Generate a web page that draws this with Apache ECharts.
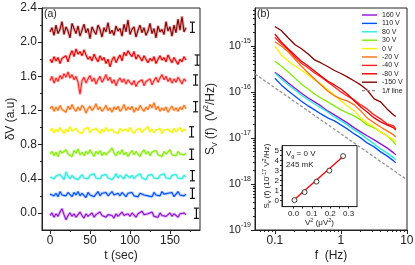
<!DOCTYPE html>
<html><head><meta charset="utf-8">
<script src="https://cdn.jsdelivr.net/npm/echarts@6/dist/echarts.min.js"></script>
<style>html,body{margin:0;padding:0;background:#fff}#c{width:415px;height:265px}</style>
</head><body><div id="c"></div>
<script>
// ---------- Panel (a): time traces ----------
const tSec = [0,2.5,5,7.5,10,12.5,15,17.5,20,22.5,25,27.5,30,32.5,35,37.5,40,42.5,45,47.5,50,52.5,55,57.5,60,62.5,65,67.5,70,72.5,75,77.5,80,82.5,85,87.5,90,92.5,95,97.5,100,102.5,105,107.5,110,112.5,115,117.5,120,122.5,125,127.5,130,132.5,135,137.5,140,142.5,145,147.5,150,152.5,155,157.5,160,162.5,165,167.5,170];
const trace_m150 = [2.12,2.17,2.08,2.20,2.10,2.15,2.24,2.09,2.18,2.13, 2.05,2.22,2.16,2.10,2.19,2.07,2.14,2.21,2.11,2.16, 2.04,2.18,2.13,2.09,2.20,2.15,2.06,2.17,2.12,2.23, 2.10,2.14,2.08,2.19,2.13,2.16,2.07,2.21,2.12,2.26, 2.09,2.15,2.18,2.06,2.14,2.20,2.11,2.17,2.08,2.13, 2.22,2.10,2.16,2.05,2.19,2.12,2.15,2.09,2.24,2.13, 2.18,2.07,2.20,2.11,2.27,2.14,2.30,2.12,2.17];
const trace_m80 = [1.80,1.76,1.83,1.78,1.82,1.75,1.81,1.79,1.84,1.77, 1.85,1.90,1.83,1.92,1.86,1.89,1.84,1.91,1.85,1.80, 1.83,1.78,1.86,1.81,1.77,1.84,1.79,1.82,1.75,1.80, 1.71,1.79,1.83,1.76,1.81,1.85,1.78,1.88,1.84,1.90, 1.86,1.83,1.89,1.80,1.85,1.82,1.78,1.84,1.80,1.76, 1.81,1.78,1.83,1.75,1.80,1.84,1.79,1.82,1.77,1.85, 1.80,1.76,1.82,1.78,1.74,1.80,1.77,1.83,1.79];
const trace_m40 = [1.55,1.60,1.52,1.58,1.54,1.61,1.57,1.63,1.59,1.65, 1.58,1.62,1.56,1.60,1.53,1.39,1.55,1.59,1.52,1.57, 1.61,1.54,1.58,1.51,1.56,1.60,1.53,1.57,1.62,1.55, 1.59,1.52,1.56,1.49,1.55,1.58,1.53,1.57,1.51,1.56, 1.54,1.50,1.55,1.48,1.53,1.51,1.56,1.49,1.54,1.52, 1.57,1.50,1.55,1.59,1.53,1.58,1.62,1.56,1.60,1.54, 1.58,1.52,1.57,1.53,1.59,1.55,1.51,1.57,1.54];
const trace_m20 = [1.22,1.25,1.19,1.24,1.20,1.26,1.21,1.23,1.18,1.25, 1.21,1.27,1.22,1.19,1.24,1.20,1.26,1.23,1.17,1.22, 1.25,1.20,1.23,1.28,1.21,1.24,1.19,1.22,1.26,1.20, 1.23,1.18,1.24,1.21,1.25,1.19,1.22,1.27,1.20,1.24, 1.21,1.25,1.18,1.23,1.20,1.26,1.22,1.19,1.24,1.21, 1.27,1.23,1.29,1.21,1.25,1.19,1.23,1.20,1.24,1.18, 1.22,1.25,1.20,1.23,1.19,1.24,1.21,1.26,1.22];
const trace_0 = [0.96,0.99,0.94,0.98,0.95,1.00,0.96,0.93,0.98,0.95, 1.01,0.96,0.94,0.99,0.95,0.97,0.93,0.98,0.96,1.00, 0.94,0.97,0.95,0.99,0.96,0.93,0.98,0.95,1.00,0.96, 0.94,0.98,0.95,0.97,0.93,0.99,0.96,0.94,0.98,0.95, 1.00,0.96,0.93,0.97,0.95,0.99,0.94,0.97,0.96,1.01, 0.95,0.98,0.94,0.97,0.96,0.99,0.93,0.97,0.95,0.98, 0.96,0.94,0.99,0.95,0.97,1.00,0.95,0.98,0.96];
const trace_30 = [0.69,0.72,0.67,0.71,0.66,0.73,0.70,0.68,0.74,0.69, 0.71,0.66,0.73,0.70,0.75,0.68,0.71,0.67,0.72,0.69, 0.74,0.70,0.66,0.72,0.69,0.73,0.67,0.71,0.68,0.70, 0.73,0.76,0.70,0.67,0.72,0.69,0.74,0.68,0.71,0.66, 0.70,0.73,0.68,0.72,0.69,0.66,0.71,0.74,0.69,0.72, 0.67,0.71,0.69,0.73,0.68,0.70,0.66,0.72,0.69,0.71, 0.74,0.68,0.70,0.67,0.72,0.69,0.71,0.68,0.70];
const trace_80 = [0.42,0.44,0.40,0.43,0.41,0.45,0.42,0.39,0.48,0.43, 0.40,0.44,0.41,0.43,0.39,0.42,0.45,0.41,0.43,0.40, 0.44,0.42,0.46,0.41,0.43,0.40,0.44,0.42,0.45,0.41, 0.43,0.39,0.42,0.46,0.41,0.44,0.42,0.40,0.45,0.43, 0.41,0.44,0.40,0.43,0.42,0.46,0.41,0.43,0.39,0.44, 0.42,0.45,0.41,0.43,0.40,0.44,0.42,0.46,0.41,0.43, 0.40,0.44,0.42,0.45,0.41,0.43,0.40,0.44,0.42];
const trace_110 = [0.22,0.24,0.20,0.23,0.19,0.25,0.21,0.23,0.20,0.24, 0.22,0.19,0.24,0.21,0.25,0.20,0.23,0.22,0.18,0.24, 0.21,0.23,0.19,0.22,0.25,0.20,0.23,0.21,0.24,0.20, 0.22,0.25,0.21,0.19,0.23,0.20,0.24,0.22,0.19,0.23, 0.21,0.24,0.20,0.22,0.19,0.23,0.25,0.21,0.23,0.20, 0.22,0.19,0.24,0.21,0.23,0.20,0.25,0.22,0.20,0.23, 0.21,0.24,0.19,0.22,0.25,0.21,0.23,0.20,0.22];
const trace_160 = [-0.03,0.00,-0.05,-0.01,-0.04,0.01,0.05,-0.02,-0.08,-0.03, 0.00,-0.04,-0.01,-0.05,-0.02,0.01,-0.03,-0.06,-0.01,-0.04, -0.02,0.00,-0.05,-0.02,-0.04,0.01,-0.03,-0.01,-0.05,-0.02, 0.00,-0.03,-0.06,-0.01,-0.04,-0.02,0.01,-0.03,-0.05,-0.01, -0.04,0.00,-0.02,-0.05,-0.01,-0.03,0.02,-0.02,-0.04,-0.01, -0.03,0.01,-0.04,-0.02,-0.05,0.00,-0.03,-0.01,-0.04,-0.02, 0.00,-0.04,-0.01,-0.03,-0.05,-0.01,-0.03,0.00,-0.02];
const traceNames = ['-150 V','-80 V','-40 V','-20 V','0 V','30 V','80 V','110 V','160 V'];
const labelT = [100,104,91,100,96,94,98,94,94];
const labelY = [2.31,1.955,1.647,1.343,1.062,0.787,0.54,0.307,0.073];
const scaleBarT = [178,184,182,182,177,177,178,178,183];
const scaleBarY = [2.174,1.79,1.557,1.244,0.95,0.687,0.436,0.23,-0.004];
const scaleBarLen = 0.12;
const tLabels = [0,50,100,150];
const tMinor = [25,75,125,175];
const dvLabels = [0,0.4,0.8,1.2,1.6,2.0,2.4];
const dvMinor = [0.2,0.6,1.0,1.4,1.8,2.2];

// ---------- Panel (b): spectra ----------
const freq = [0.1,0.125,0.16,0.2,0.25,0.32,0.4,0.5,0.63,0.8,1,1.25,1.6,2,2.5,3.2,4,5,6.3,6.8];
const S_160 = [2.68e-16,2.12e-16,1.57e-16,1.22e-16,9.51e-17,7.40e-17,6.06e-17,4.96e-17,3.86e-17,3.16e-17,2.59e-17,2.12e-17,1.65e-17,1.35e-17,1.11e-17,9.04e-18,7.40e-18,6.06e-18,4.72e-18,4.27e-18];
const S_110 = [1.99e-16,1.42e-16,1.05e-16,8.18e-17,6.37e-17,4.96e-17,4.06e-17,3.32e-17,2.72e-17,2.34e-17,1.92e-17,1.57e-17,1.22e-17,1.0e-17,7.78e-18,6.37e-18,4.96e-18,4.06e-18,3.16e-18,2.86e-18];
const S_80 = [2.59e-16,1.92e-16,1.42e-16,1.11e-16,8.60e-17,6.70e-17,5.48e-17,4.49e-17,3.67e-17,2.86e-17,2.34e-17,1.92e-17,1.49e-17,1.22e-17,9.51e-18,7.40e-18,5.76e-18,4.72e-18,3.67e-18,3.32e-18];
const S_30 = [4.65e-16,3.67e-16,2.72e-16,2.02e-16,1.49e-16,1.16e-16,9.04e-17,7.40e-17,6.06e-17,4.96e-17,4.06e-17,3.50e-17,3.01e-17,2.46e-17,1.92e-17,1.65e-17,1.35e-17,1.11e-17,8.18e-18,7.04e-18];
const S_0 = [1.0e-15,6.37e-16,4.72e-16,3.67e-16,3.01e-16,2.34e-16,1.82e-16,1.49e-16,1.11e-16,8.60e-17,6.37e-17,4.96e-17,3.86e-17,2.72e-17,2.12e-17,1.73e-17,1.35e-17,1.11e-17,9.04e-18,8.18e-18];
const S_m20 = [1.24e-15,1.0e-15,7.40e-16,5.22e-16,3.67e-16,2.59e-16,1.92e-16,1.42e-16,1.05e-16,8.18e-17,7.04e-17,6.37e-17,5.22e-17,3.86e-17,2.72e-17,2.12e-17,1.73e-17,1.42e-17,1.16e-17,1.05e-17];
const S_m40 = [1.53e-15,1.11e-15,8.18e-16,5.76e-16,4.27e-16,3.32e-16,2.59e-16,2.12e-16,1.65e-16,1.28e-16,1.0e-16,8.18e-17,6.70e-17,5.22e-17,4.27e-17,3.16e-17,2.59e-17,2.02e-17,1.82e-17,1.57e-17];
const S_m80 = [1.82e-15,1.22e-15,8.6e-16,6.37e-16,4.72e-16,3.67e-16,2.86e-16,2.23e-16,1.73e-16,1.42e-16,1.16e-16,9.04e-17,6.37e-17,4.72e-17,3.67e-17,2.72e-17,2.23e-17,1.92e-17,1.65e-17,1.49e-17];
const S_m150 = [2.65e-15,2.17e-15,1.49e-15,1.08e-15,8.8e-16,6.7e-16,4.97e-16,4.27e-16,3.58e-16,2.93e-16,2.52e-16,2.12e-16,1.73e-16,1.42e-16,1.10e-16,7.05e-17,6.07e-17,4.27e-17,3.16e-17,2.93e-17];
const oneOverF_f = [0.05,10];
const oneOverF_S = [2.46e-16,1.23e-18];
const specNames = ['160 V','110 V','80 V','30 V','0 V','-20 V','-40 V','-80 V','-150 V'];
const fLabels = [0.1,1,10];
const fMinor = [0.06,0.07,0.08,0.09,0.2,0.3,0.4,0.5,0.6,0.7,0.8,0.9,2,3,4,5,6,7,8,9];
const sLabels = [1e-19,1e-18,1e-17,1e-16,1e-15];
const sMinor = [2e-19,3e-19,4e-19,5e-19,6e-19,7e-19,8e-19,9e-19,2e-18,3e-18,4e-18,5e-18,6e-18,7e-18,8e-18,9e-18,2e-17,3e-17,4e-17,5e-17,6e-17,7e-17,8e-17,9e-17,2e-16,3e-16,4e-16,5e-16,6e-16,7e-16,8e-16,9e-16,2e-15,3e-15,4e-15,5e-15,6e-15];

// ---------- Inset ----------
const insetV2 = [0.005,0.06,0.125,0.195,0.27];
const insetS = [0.05,0.85,1.9,3.0,4.45];
const fitV2 = [0.005,0.27];
const fitS = [0.1,4.4];
const insetXLabels = [0,0.1,0.2,0.3];
const insetXTicks = [0,0.05,0.1,0.15,0.2,0.25,0.3];
const insetYLabels = [0,1,2,3,4,5];
const insetYTicks = [0,0.5,1,1.5,2,2.5,3,3.5,4,4.5,5];

// ---------- styling ----------
const FONT = '"Liberation Sans", Arial, sans-serif';
const ink = '#222';
const traceColors = ['#8b0000','#e80000','#ff2222','#ff7010','#f4f400','#80ee00','#22eedd','#0050ff','#9010d8'];
const specColors = ['#9010d8','#0050ff','#22eedd','#80ee00','#f4f400','#ff7010','#ff2222','#e80000','#8b0000'];
const traces = [trace_m150,trace_m80,trace_m40,trace_m20,trace_0,trace_30,trace_80,trace_110,trace_160];
const spectra = [S_160,S_110,S_80,S_30,S_0,S_m20,S_m40,S_m80,S_m150];

const rich = {
  sup:{fontSize:7,lineHeight:8,verticalAlign:'top',fontFamily:FONT,color:ink},
  sub:{fontSize:7,lineHeight:8,verticalAlign:'bottom',fontFamily:FONT,color:ink}
};
const richSmall = {
  sup:{fontSize:5.5,lineHeight:6,verticalAlign:'top',fontFamily:FONT,color:ink},
  sub:{fontSize:5.5,lineHeight:6,verticalAlign:'bottom',fontFamily:FONT,color:ink}
};

function mainAxis(o){
  return Object.assign({
    type:'value', nameMoveOverlap:false,
    axisLine:{show:true,onZero:false,lineStyle:{color:ink,width:1}},
    axisTick:{show:true,inside:false,length:4,lineStyle:{color:ink,width:1}},
    axisLabel:{show:true,color:ink,fontFamily:FONT,fontSize:12,margin:4},
    splitLine:{show:false}, minorTick:{show:false}, minorSplitLine:{show:false},
    nameTextStyle:{color:ink,fontFamily:FONT,fontSize:12}
  }, o);
}
function minorAxis(o, vals, len){
  return Object.assign({
    type:'value',
    axisLine:{show:false,onZero:false},
    axisTick:{show:true,inside:false,length:len||2,customValues:vals,lineStyle:{color:ink,width:1}},
    axisLabel:{show:false},
    splitLine:{show:false}
  }, o);
}

const xAxis = [
  mainAxis({gridIndex:0,position:'bottom',min:-10,max:187.5,
    axisTick:{show:true,inside:false,length:4,customValues:tLabels,lineStyle:{color:ink}},
    axisLabel:{show:true,customValues:tLabels,color:ink,fontFamily:FONT,fontSize:12,margin:5},
    name:'t (sec)',nameLocation:'middle',nameGap:20}),
  minorAxis({gridIndex:0,position:'bottom',min:-10,max:187.5}, tMinor, 2),
  mainAxis({gridIndex:1,type:'log',logBase:10,position:'bottom',min:0.05,max:10.05,
    axisTick:{show:true,inside:false,length:4,customValues:fLabels,lineStyle:{color:ink}},
    axisLabel:{show:true,customValues:fLabels,color:ink,fontFamily:FONT,fontSize:12,margin:5,
      formatter:v=>{const e=Math.round(Math.log10(v));return e<0?Math.pow(10,e).toFixed(-e):String(Math.pow(10,e));}},
    name:'f  (Hz)',nameLocation:'middle',nameGap:20}),
  minorAxis({gridIndex:1,type:'log',logBase:10,position:'bottom',min:0.05,max:10.05}, fMinor, 2),
  mainAxis({gridIndex:2,position:'bottom',min:-0.063,max:0.346,
    axisTick:{show:true,inside:false,length:2,customValues:insetXTicks,lineStyle:{color:ink}},
    axisLabel:{show:true,customValues:insetXLabels,color:ink,fontFamily:FONT,fontSize:8,margin:3,formatter:v=>v.toFixed(1)},
    name:'V{sup|2} (μV{sup|2})',nameLocation:'middle',nameGap:11,
    nameTextStyle:{color:ink,fontFamily:FONT,fontSize:8,lineHeight:11,rich:richSmall}})
];
const yAxis = [
  mainAxis({gridIndex:0,position:'left',min:-0.2,max:2.4,
    axisTick:{show:true,inside:false,length:4,customValues:dvLabels,lineStyle:{color:ink}},
    axisLabel:{show:true,customValues:dvLabels,color:ink,fontFamily:FONT,fontSize:12,margin:5,formatter:v=>v.toFixed(1)},
    name:'δV (a.u)',nameLocation:'middle',nameGap:25}),
  minorAxis({gridIndex:0,position:'left',min:-0.2,max:2.4}, dvMinor, 2),
  mainAxis({gridIndex:1,type:'log',logBase:10,position:'left',min:9.9e-20,max:6.7e-15,
    axisTick:{show:true,inside:false,length:4,customValues:sLabels,lineStyle:{color:ink}},
    axisLabel:{show:true,customValues:sLabels,color:ink,fontFamily:FONT,fontSize:11,lineHeight:16,margin:4,rich:rich,
      formatter:v=>'10{sup|'+Math.round(Math.log10(v))+'}'},
    name:'S{sub|V} (f)  (V{sup|2}/Hz)',nameLocation:'middle',nameGap:36,
    nameTextStyle:{color:ink,fontFamily:FONT,fontSize:12,lineHeight:16,rich:rich}}),
  minorAxis({gridIndex:1,type:'log',logBase:10,position:'left',min:9.9e-20,max:6.7e-15}, sMinor, 2),
  mainAxis({gridIndex:2,position:'left',min:-0.6,max:5.5,
    axisTick:{show:true,inside:false,length:2,customValues:insetYTicks,lineStyle:{color:ink}},
    axisLabel:{show:true,customValues:insetYLabels,color:ink,fontFamily:FONT,fontSize:8,margin:3},
    name:'S{sub|v} (f) (10{sup|-17} V{sup|2}/Hz)',nameLocation:'middle',nameGap:10,
    nameTextStyle:{color:ink,fontFamily:FONT,fontSize:8,lineHeight:11,rich:richSmall}})
];

const series = [];
traces.forEach((tr,i)=>{
  const d = tr.map((v,k)=>[tSec[k],v]);
  series.push({type:'line',xAxisIndex:0,yAxisIndex:0,data:d,symbol:'none',
    lineStyle:{color:traceColors[i],width:3,opacity:0.3},silent:true,z:1});
  series.push({type:'line',xAxisIndex:0,yAxisIndex:0,data:d,symbol:'none',
    lineStyle:{color:traceColors[i],width:1.1},itemStyle:{color:traceColors[i]},silent:true,z:2});
});
series.push({type:'scatter',xAxisIndex:0,yAxisIndex:0,symbolSize:1,itemStyle:{opacity:0},silent:true,z:5,
  data:traceNames.map((n,i)=>({name:n,value:[labelT[i],labelY[i]]})),
  label:{show:true,position:'inside',formatter:'{b}',color:ink,fontFamily:FONT,fontSize:7.5}});
series.push({type:'custom',xAxisIndex:0,yAxisIndex:0,silent:true,z:5,
  data:scaleBarT.map((t,i)=>[t,scaleBarY[i]]),encode:{x:0,y:1},
  renderItem:(params,api)=>{
    const top=api.coord([api.value(0),api.value(1)+scaleBarLen/2]);
    const bot=api.coord([api.value(0),api.value(1)-scaleBarLen/2]);
    const w=2.5, st={stroke:'#111',lineWidth:1.2};
    return {type:'group',children:[
      {type:'line',shape:{x1:top[0],y1:top[1],x2:bot[0],y2:bot[1]},style:st},
      {type:'line',shape:{x1:top[0]-w,y1:top[1],x2:top[0]+w,y2:top[1]},style:st},
      {type:'line',shape:{x1:bot[0]-w,y1:bot[1],x2:bot[0]+w,y2:bot[1]},style:st}
    ]};
  }});
spectra.forEach((s,i)=>{
  series.push({type:'line',name:specNames[i],xAxisIndex:2,yAxisIndex:2,data:s.map((v,k)=>[freq[k],v]),
    symbol:'none',lineStyle:{color:specColors[i],width:1.3},itemStyle:{color:specColors[i]},silent:true,z:2});
});
series.push({type:'line',name:'1/f line',xAxisIndex:2,yAxisIndex:2,data:oneOverF_f.map((f,k)=>[f,oneOverF_S[k]]),
  symbol:'none',lineStyle:{color:'#8c8c8c',width:1.2,type:[3,2]},itemStyle:{color:'#8c8c8c'},silent:true,z:2});
series.push({type:'line',xAxisIndex:4,yAxisIndex:4,data:fitV2.map((v,k)=>[v,fitS[k]]),
  symbol:'none',lineStyle:{color:'#ff0000',width:1.3},silent:true,z:6});
series.push({type:'scatter',xAxisIndex:4,yAxisIndex:4,data:insetV2.map((v,k)=>[v,insetS[k]]),
  symbol:'circle',symbolSize:5,itemStyle:{color:'#fff',borderColor:'#111',borderWidth:1},silent:true,z:7});

const solidIcon = 'path://M0 0H15V1.4H0Z';
const dashIcon = 'path://M0 0H3V1.2H0ZM5 0H8V1.2H5ZM10 0H13V1.2H10ZM15 0H15.01V1.2H15Z';
const legendData = specNames.map(n=>({name:n,icon:solidIcon})).concat([{name:'1/f line',icon:dashIcon}]);

const option = {
  animation:false,
  backgroundColor:'#fff',
  textStyle:{fontFamily:FONT},
  grid:[
    {left:42,top:8,width:158,height:222,show:true,borderColor:ink,borderWidth:1,backgroundColor:'transparent',outerBoundsMode:'none',containLabel:false},
    {left:255,top:8,width:152,height:222,show:true,borderColor:ink,borderWidth:1,backgroundColor:'transparent',outerBoundsMode:'none',containLabel:false},
    {left:282,top:145.6,width:75,height:61,show:true,borderColor:ink,borderWidth:1,backgroundColor:'#fff',outerBoundsMode:'none',containLabel:false}
  ],
  xAxis:xAxis, yAxis:yAxis,
  legend:{data:legendData,orient:'vertical',left:362,top:11,padding:0,itemGap:0.4,
    itemWidth:15,itemHeight:1.4,textStyle:{fontSize:7,lineHeight:8,color:ink,fontFamily:FONT},selectedMode:false},
  graphic:[
    {type:'text',left:44,top:9,style:{text:'(a)',fontSize:10.5,fontFamily:FONT,fill:ink}},
    {type:'text',left:257,top:9,style:{text:'(b)',fontSize:10.5,fontFamily:FONT,fill:ink}},
    {type:'text',left:286,top:148,z:20,style:{text:'V{s|g} = 0 V',fontSize:8,lineHeight:11,fontFamily:FONT,fill:ink,
      rich:{s:{fontSize:5.5,lineHeight:6,verticalAlign:'bottom',fontFamily:FONT,fill:ink}}}},
    {type:'text',left:286,top:161,z:20,style:{text:'245 mK',fontSize:8,fontFamily:FONT,fill:ink}}
  ],
  series:series
};
const chart = echarts.init(document.getElementById('c'),null,{renderer:'canvas'});
chart.setOption(option);
</script>
</body></html>
